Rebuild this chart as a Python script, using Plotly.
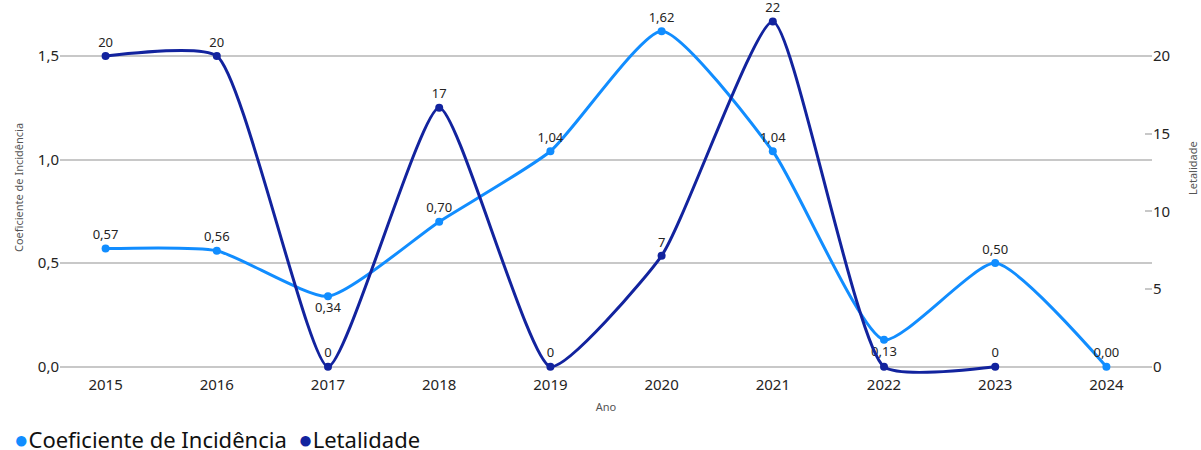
import plotly.graph_objects as go

anos = ["2015", "2016", "2017", "2018", "2019", "2020", "2021", "2022", "2023", "2024"]
coeficiente = [0.57, 0.56, 0.34, 0.70, 1.04, 1.62, 1.04, 0.13, 0.50, 0.00]
letalidade = [20, 20, 0, 16.67, 0, 7.14, 22.22, 0, 0, None]

coef_pos = ["top center", "top center", "bottom center", "top center", "top center",
            "top center", "top center", "bottom center", "top center", "top center"]
let_show = [True, True, True, True, True, True, True, False, True, False]

C1 = "#118DFF"
C2 = "#12239E"
FONT = "Segoe UI, Noto Sans, Open Sans, sans-serif"
TXT = "#252423"

# plot area geometry (px)
PL, PR, PT, PB = 60, 1152, 10, 376
H = PB - PT
W = PR - PL

fig = go.Figure()
fig.add_trace(go.Scatter(
    x=anos, y=coeficiente, name="Coeficiente de Incidência",
    mode="lines+markers+text", line=dict(color=C1, width=3, shape="spline", smoothing=0.55),
    marker=dict(size=8, color=C1),
    texttemplate="%{y:.2f}", textposition=coef_pos,
    textfont=dict(size=13, color=TXT, family=FONT),
    cliponaxis=False, showlegend=False, yaxis="y"))
fig.add_trace(go.Scatter(
    x=anos, y=letalidade, name="Letalidade",
    mode="lines+markers+text", line=dict(color=C2, width=3, shape="spline", smoothing=0.5),
    marker=dict(size=8, color=C2),
    texttemplate=["%{y:.0f}" if s else "" for s in let_show], textposition="top center",
    textfont=dict(size=13, color=TXT, family=FONT),
    cliponaxis=False, showlegend=False, yaxis="y2"))

legend_text = (
    f"<span style='color:{C1};font-size:24px'>●</span>Coeficiente de Incidência  "
    f"<span style='color:{C2};font-size:24px'>●</span>Letalidade"
)

fig.update_layout(
    width=1201, height=450,
    margin=dict(l=PL, r=1201 - PR, t=PT, b=450 - PB),
    paper_bgcolor="white", plot_bgcolor="white",
    separators=",.",
    font=dict(family=FONT, color=TXT),
    showlegend=False,
    xaxis=dict(type="category", range=[-0.41, 9.41], showgrid=False, zeroline=False,
               showline=False, ticks="", tickfont=dict(size=15, color=TXT),
               ticklabelstandoff=-2, automargin=False,
               title=dict(text="Ano", font=dict(size=11, color="#555"), standoff=10)),
    yaxis=dict(range=[-0.045, 1.722], tickvals=[0, 0.5, 1.0, 1.5], tickformat=".1f",
               showgrid=True, gridcolor="#C8C8C8", gridwidth=2, zeroline=False,
               showline=False, ticks="", tickfont=dict(size=15, color=TXT),
               automargin=False),
    yaxis2=dict(range=[-0.6, 22.96], tickvals=[0, 5, 10, 15, 20], overlaying="y", side="right",
                showgrid=False, zeroline=False, showline=False,
                ticks="inside", ticklen=7, tickcolor="#C8C8C8", tickwidth=2,
                tickfont=dict(size=15, color=TXT), automargin=False),
    annotations=[
        dict(text=legend_text, xref="paper", yref="paper",
             x=(12 - PL) / W, y=(PB - 438) / H, xanchor="left", yanchor="middle",
             showarrow=False, font=dict(size=22, color="#111", family=FONT), align="left"),
        dict(text="Coeficiente de Incidência", xref="paper", yref="paper",
             x=(18 - PL) / W, y=(PB - 188) / H, xanchor="center", yanchor="middle",
             textangle=-90, showarrow=False, font=dict(size=11, color="#555", family=FONT)),
        dict(text="Letalidade", xref="paper", yref="paper",
             x=(1192 - PL) / W, y=(PB - 168) / H, xanchor="center", yanchor="middle",
             textangle=-90, showarrow=False, font=dict(size=11, color="#555", family=FONT)),
    ],
)

fig.write_html("out.html", config={"displayModeBar": False},
               post_script="document.body.style.margin='0';")
